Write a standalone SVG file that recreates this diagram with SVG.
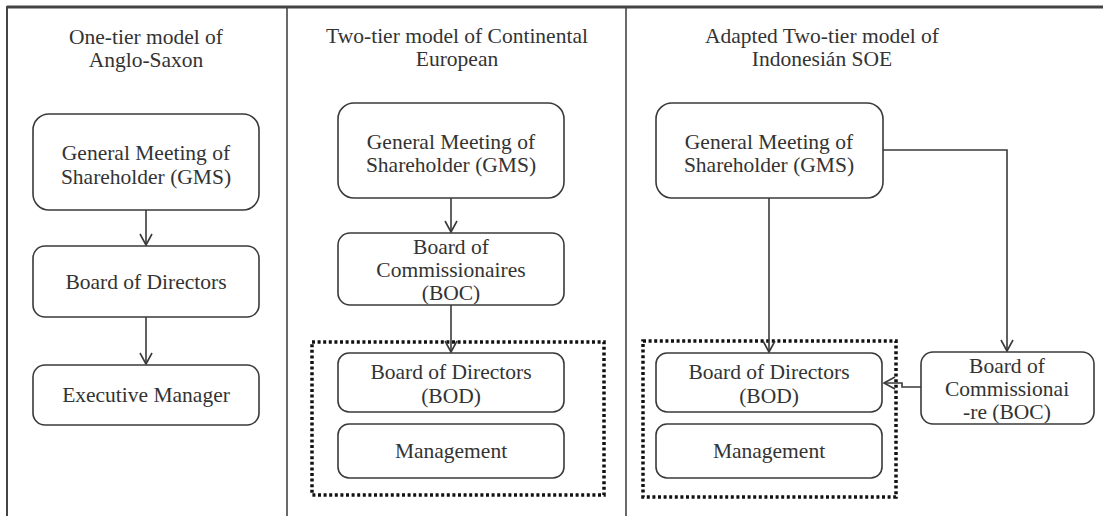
<svg xmlns="http://www.w3.org/2000/svg" width="1103" height="516" viewBox="0 0 1103 516">
<style>
text{font-family:"Liberation Serif","Times New Roman",serif;font-size:21.5px;fill:#333;text-anchor:middle}
.box{fill:#fff;stroke:#3a3a3a;stroke-width:1.6}
.frame{stroke:#444;fill:none}
.dot{fill:none;stroke:#111;stroke-width:3.5;stroke-dasharray:3 2.6}
.con{fill:none;stroke:#3a3a3a;stroke-width:1.6}
</style>
<defs>
<marker id="arr" markerUnits="userSpaceOnUse" markerWidth="14" markerHeight="14" viewBox="0 0 14 14" refX="12" refY="7" orient="auto">
<path d="M1,1 L12,7 L1,13" fill="none" stroke="#3a3a3a" stroke-width="1.6"/>
</marker>
</defs>
<rect width="1103" height="516" fill="#fff"/>
<g id="frame">
<line class="frame" x1="7" y1="7" x2="1103" y2="7" stroke-width="3"/>
<line class="frame" x1="7" y1="6" x2="7" y2="516" stroke-width="2"/>
<line class="frame" x1="287" y1="7" x2="287" y2="516" stroke-width="1.6"/>
<line class="frame" x1="626" y1="7" x2="626" y2="516" stroke-width="1.6"/>
</g>
<g id="titles">
<text x="146" y="44">One-tier model of</text>
<text x="146" y="67">Anglo-Saxon</text>
<text x="457" y="43">Two-tier model of Continental</text>
<text x="457" y="66">European</text>
<text x="822" y="43">Adapted Two-tier model of</text>
<text x="822" y="66">Indonesián SOE</text>
</g>
<g id="groups">
<rect class="dot" x="312" y="342" width="292" height="153"/>
<rect class="dot" x="643" y="341" width="253" height="156"/>
</g>
<g id="connectors">
<line class="con" x1="146" y1="210" x2="146" y2="245" marker-end="url(#arr)"/>
<line class="con" x1="146" y1="317" x2="146" y2="364" marker-end="url(#arr)"/>
<line class="con" x1="451" y1="198" x2="451" y2="232" marker-end="url(#arr)"/>
<line class="con" x1="451" y1="305" x2="451" y2="352" marker-end="url(#arr)"/>
<line class="con" x1="769" y1="198" x2="769" y2="352" marker-end="url(#arr)"/>
<polyline class="con" points="883,150 1007,150 1007,351" marker-end="url(#arr)"/>
<polyline class="con" points="921,387 902,387 902,383 884,383" marker-end="url(#arr)"/>
</g>
<g id="p1-gms">
<rect class="box" x="33" y="114" width="226" height="96" rx="16"/>
<text x="146" y="160">General Meeting of</text>
<text x="146" y="184">Shareholder (GMS)</text>
</g>
<g id="p1-bod">
<rect class="box" x="33" y="246" width="226" height="71" rx="12"/>
<text x="146" y="289">Board of Directors</text>
</g>
<g id="p1-exec">
<rect class="box" x="33" y="365" width="226" height="60" rx="12"/>
<text x="146" y="402">Executive Manager</text>
</g>
<g id="p2-gms">
<rect class="box" x="338" y="103" width="226" height="95" rx="16"/>
<text x="451" y="149">General Meeting of</text>
<text x="451" y="172">Shareholder (GMS)</text>
</g>
<g id="p2-boc">
<rect class="box" x="338" y="233" width="226" height="72" rx="12"/>
<text x="451" y="254">Board of</text>
<text x="451" y="277">Commissionaires</text>
<text x="451" y="300">(BOC)</text>
</g>
<g id="p2-bod">
<rect class="box" x="338" y="353" width="226" height="59" rx="11"/>
<text x="451" y="379">Board of Directors</text>
<text x="451" y="403">(BOD)</text>
</g>
<g id="p2-mgmt">
<rect class="box" x="338" y="424" width="226" height="54" rx="11"/>
<text x="451" y="458">Management</text>
</g>
<g id="p3-gms">
<rect class="box" x="656" y="103" width="227" height="95" rx="16"/>
<text x="769" y="149">General Meeting of</text>
<text x="769" y="172">Shareholder (GMS)</text>
</g>
<g id="p3-bod">
<rect class="box" x="656" y="353" width="226" height="59" rx="11"/>
<text x="769" y="379">Board of Directors</text>
<text x="769" y="403">(BOD)</text>
</g>
<g id="p3-mgmt">
<rect class="box" x="656" y="424" width="226" height="54" rx="11"/>
<text x="769" y="458">Management</text>
</g>
<g id="p3-boc">
<rect class="box" x="921" y="352" width="173" height="72" rx="12"/>
<text x="1007" y="373">Board of</text>
<text x="1007" y="396">Commissionai</text>
<text x="1007" y="419">-re (BOC)</text>
</g>
</svg>
